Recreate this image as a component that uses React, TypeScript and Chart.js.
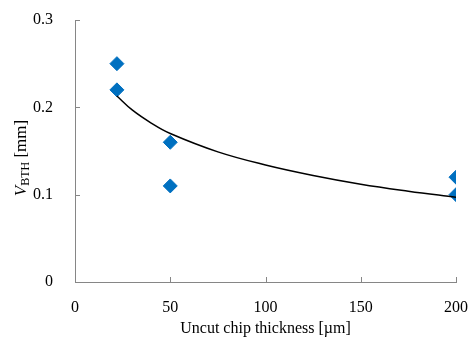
import React, { useEffect, useRef } from "react";
import { Chart, registerables } from "chart.js";

Chart.register(...registerables);

const thicknessUm = [22, 22, 50, 50, 200, 200];
const vbthMm = [0.25, 0.22, 0.16, 0.11, 0.12, 0.1];
// Trend line
const trendX = [22, 30, 40, 50, 75, 100, 125, 150, 175, 200];
const trendY = [0.213, 0.197, 0.182, 0.17, 0.149, 0.134, 0.122, 0.112, 0.104, 0.097];
const xTicks = [0, 50, 100, 150, 200];
const yTicks = [0, 0.1, 0.2, 0.3];
const xTitle = "Uncut chip thickness [µm]";

const FONT = "'Liberation Serif', 'Times New Roman', serif";

const insideTicks = {
  id: "insideTicks",
  afterDatasetsDraw(chart: any) {
    const { ctx, scales } = chart;
    const xs = scales.x;
    const ys = scales.y;
    ctx.save();
    ctx.strokeStyle = "#868686";
    ctx.lineWidth = 1;
    ctx.beginPath();
    xTicks.forEach((t) => {
      const px = Math.round(xs.getPixelForValue(t)) + 0.5;
      ctx.moveTo(px, ys.bottom);
      ctx.lineTo(px, ys.bottom - 5);
    });
    yTicks.forEach((t) => {
      const py = Math.round(ys.getPixelForValue(t)) + 0.5;
      ctx.moveTo(xs.left, py);
      ctx.lineTo(xs.left + 5, py);
    });
    ctx.stroke();
    // y title
    ctx.fillStyle = "#000";
    ctx.translate(20, 158);
    ctx.rotate(-Math.PI / 2);
    ctx.textBaseline = "alphabetic";
    const big = `17px ${FONT}`;
    const bigIt = `italic 17px ${FONT}`;
    const small = `12px ${FONT}`;
    ctx.font = bigIt;
    const wV = ctx.measureText("V").width;
    ctx.font = small;
    const wB = ctx.measureText("BTH").width;
    ctx.font = big;
    const wM = ctx.measureText(" [mm]").width;
    const total = wV + wB + wM;
    let x0 = -total / 2;
    ctx.font = bigIt;
    ctx.fillText("V", x0, 6);
    x0 += wV;
    ctx.font = small;
    ctx.fillText("BTH", x0, 9);
    x0 += wB;
    ctx.font = big;
    ctx.fillText(" [mm]", x0, 6);
    ctx.restore();
  },
};

export default function App() {
  const ref = useRef<HTMLCanvasElement>(null);
  useEffect(() => {
    document.body.style.margin = "0";
    const chart = new Chart(ref.current!, {
      type: "scatter",
      data: {
        datasets: [
          {
            type: "line",
            data: trendX.map((x, i) => ({ x, y: trendY[i] })),
            borderColor: "#000",
            borderWidth: 1.5,
            pointRadius: 0,
            tension: 0.4,
            fill: false,
          } as any,
          {
            data: thicknessUm.map((x, i) => ({ x, y: vbthMm[i] })),
            backgroundColor: "#0070C0",
            borderColor: "#0070C0",
            pointStyle: "rectRot",
            pointRadius: 7,
            pointHoverRadius: 7,
          },
        ],
      },
      options: {
        animation: false,
        responsive: false,
        events: [],
        layout: { padding: { top: 20, right: 14, left: 0, bottom: 0 } },
        plugins: { legend: { display: false }, tooltip: { enabled: false } },
        scales: {
          x: {
            type: "linear",
            min: 0,
            max: 200,
            afterFit: (s: any) => {
              s.height = 56;
              s.paddingLeft = 0;
              s.paddingRight = 0;
            },
            afterBuildTicks: (s: any) => {
              s.ticks = xTicks.map((v) => ({ value: v }));
            },
            grid: { display: false },
            border: { color: "#868686", width: 1 },
            ticks: { color: "#000", font: { family: FONT, size: 16 }, padding: 8, maxRotation: 0 },
            title: { display: true, text: xTitle, color: "#000", font: { family: FONT, size: 16 }, padding: { top: 2, bottom: 0 } },
          },
          y: {
            type: "linear",
            min: 0,
            max: 0.3,
            afterFit: (s: any) => {
              s.width = 75;
              s.paddingTop = 0;
              s.paddingBottom = 0;
            },
            afterBuildTicks: (s: any) => {
              s.ticks = yTicks.map((v) => ({ value: v }));
            },
            grid: { display: false },
            border: { color: "#868686", width: 1 },
            ticks: {
              color: "#000",
              font: { family: FONT, size: 16 },
              padding: 14,
              callback: (v: any) => (v === 0 ? "0" : Number(v).toFixed(1)),
            },
          },
        },
      },
      plugins: [insideTicks],
    });
    return () => chart.destroy();
  }, []);
  return (
    <div style={{ width: 470, height: 338 }}>
      <canvas ref={ref} width={470} height={338} style={{ display: "block" }} />
    </div>
  );
}
